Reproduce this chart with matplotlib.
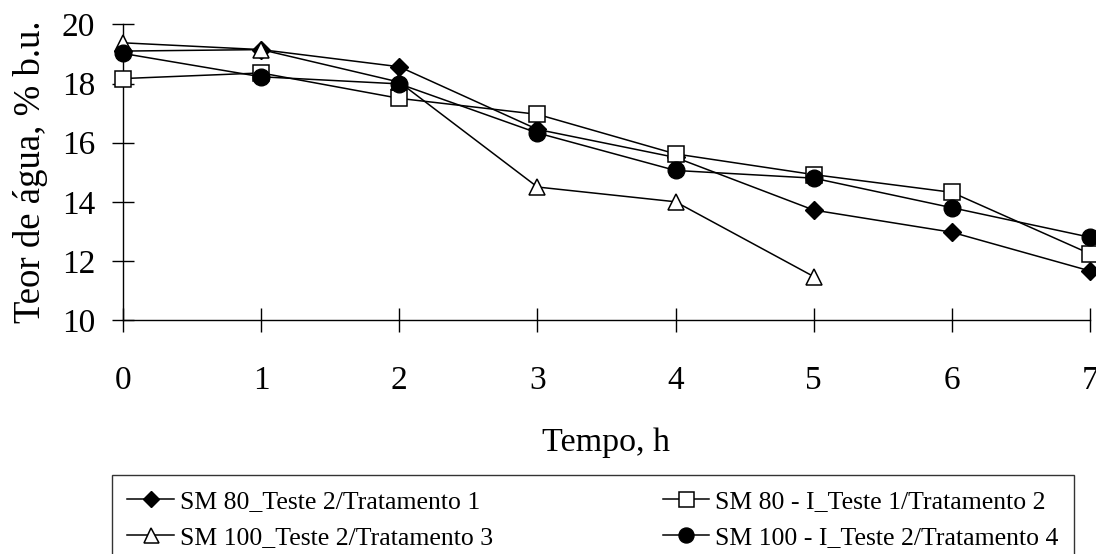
import matplotlib
matplotlib.use('Agg')
import matplotlib.pyplot as plt

plt.rcParams['font.family'] = ['Liberation Serif', 'DejaVu Serif']

tempo = [0, 1, 2, 3, 4, 5, 6, 7]
trat1 = [19.1, 19.15, 18.57, 16.45, 15.5, 13.72, 12.97, 11.66]
trat2 = [18.17, 18.36, 17.5, 16.96, 15.62, 14.92, 14.32, 12.24]
tempo3 = [0, 1, 2, 3, 4, 5]
trat3 = [19.38, 19.15, 18.05, 14.5, 14.0, 11.47]
trat4 = [19.02, 18.23, 17.99, 16.33, 15.06, 14.8, 13.8, 12.8]

nomes = ['SM 80_Teste 2/Tratamento 1', 'SM 80 - I_Teste 1/Tratamento 2',
         'SM 100_Teste 2/Tratamento 3', 'SM 100 - I_Teste 2/Tratamento 4']

fig = plt.figure(figsize=(10.96, 5.54), dpi=100)
ax = fig.add_axes([123 / 1096, 0.4224, 967 / 1096, 0.5334])

lw = 1.1
l1, = ax.plot(tempo, trat1, color='black', lw=lw, marker='D', ms=9.5,
              mfc='black', mec='black', label=nomes[0], clip_on=False, zorder=3)
l2, = ax.plot(tempo, trat2, color='black', lw=lw, marker='s', ms=12,
              mfc='white', mec='black', mew=1.1, label=nomes[1], clip_on=False, zorder=3)
l3, = ax.plot(tempo3, trat3, color='black', lw=lw, marker='^', ms=12,
              mfc='white', mec='black', mew=1.1, label=nomes[2], clip_on=False, zorder=3)
l4, = ax.plot(tempo, trat4, color='black', lw=lw, marker='o', ms=12,
              mfc='black', mec='black', label=nomes[3], clip_on=False, zorder=4)

ax.set_xlim(0, 7)
ax.set_ylim(10, 20)
ax.set_xticks(range(0, 8))
ax.set_yticks(range(10, 21, 2))
ax.spines['top'].set_visible(False)
ax.spines['right'].set_visible(False)
ax.spines['left'].set_linewidth(1.0)
ax.spines['bottom'].set_linewidth(1.0)
ax.tick_params(axis='y', direction='inout', length=16, width=1.0, labelsize=24, pad=12)
ax.tick_params(axis='x', direction='inout', length=17, width=1.0, labelsize=24, pad=24)

ax.set_ylabel('Teor de água, % b.u.', fontsize=26.5, labelpad=10)
ax.set_xlabel('Tempo, h', fontsize=24.5, labelpad=23)

leg = fig.legend(handles=[l1, l3, l2, l4], loc='upper left',
                 bbox_to_anchor=(112 / 1096, 1 - 475 / 554, 962 / 1096, 0.0),
                 bbox_transform=fig.transFigure,
                 mode='expand', ncol=2, fontsize=18.5, frameon=True, fancybox=False,
                 edgecolor='black', handlelength=1.8, handletextpad=0.25,
                 borderpad=0.6, labelspacing=0.5, borderaxespad=0.0,
                 markerscale=0.9)
leg.get_frame().set_linewidth(1.0)

fig.savefig('out.png', dpi=100)
